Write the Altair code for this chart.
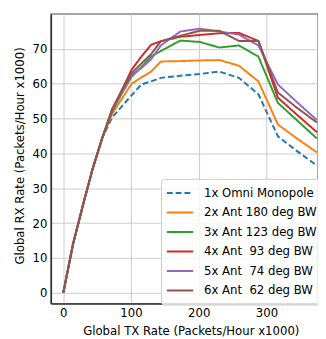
import altair as alt
import pandas as pd

tx = [0, 14.4, 28.8, 43.2, 57.6, 72, 86.4, 100.8, 115.2, 129.6, 144, 172.8,
      201.6, 230.4, 259.2, 288, 316.8, 345.6, 374.4]

names = ["1x Omni Monopole", "2x Ant 180 deg BW", "3x Ant 123 deg BW",
         "4x Ant \u00a093 deg BW", "5x Ant \u00a074 deg BW", "6x Ant \u00a062 deg BW"]

omni = [0, 14, 25, 35.5, 44.5, 50.3, 53.5, 56.7, 59.8, 60.7, 61.7, 62.3, 62.8, 63.5, 61.7, 57, 44.9, 40.6, 36.5]
ant2 = [0, 14, 25, 35.5, 44.5, 51.3, 55.7, 60, 61.8, 63.5, 66.4, 66.5, 66.7, 66.8, 65.2, 60.7, 48.3, 44.2, 40.3]
ant3 = [0, 14, 25, 35.5, 44.5, 52, 57.2, 62, 64.8, 67.8, 69.4, 72.4, 72, 70.4, 71, 67.8, 54.5, 49.4, 44.3]
ant4 = [0, 14, 25, 35.5, 44.5, 52.3, 58.2, 64, 67.8, 71.2, 72.2, 73.5, 74, 74.5, 74.6, 72.3, 56, 51, 46.1]
ant5 = [0, 14, 25, 35.5, 44.5, 52.5, 57.5, 62.4, 64.5, 67, 71, 75, 75.8, 75, 74.1, 71, 59.8, 54.6, 49.6]
ant6 = [0, 14, 25, 35.5, 44.5, 52.8, 58, 63, 65.8, 68.5, 72.2, 73.8, 75.2, 75.2, 72.3, 72.3, 57.5, 53, 48.9]

colors = ["#1f77b4", "#ff7f0e", "#2ca02c", "#d62728", "#9467bd", "#8c564b"]
dashes = [[6, 3], [1, 0], [1, 0], [1, 0], [1, 0], [1, 0]]

rows = []
for name, ys in zip(names, [omni, ant2, ant3, ant4, ant5, ant6]):
    for i, (x, y) in enumerate(zip(tx, ys)):
        rows.append({"series": name, "tx": x, "rx": y, "i": i})
df = pd.DataFrame(rows)

font = "DejaVu Sans"

legend = alt.Legend(
    title=None, orient="none", legendX=113, legendY=169,
    labelFont=font, labelFontSize=12, labelColor="#000",
    symbolType="stroke", symbolSize=729, symbolStrokeWidth=2,
    clipHeight=19, rowPadding=1, labelOffset=10,
    padding=5, fillColor="rgba(255,255,255,0.8)", strokeColor="#cccccc",
    cornerRadius=3, labelLimit=300,
)

chart = alt.Chart(df).mark_line(strokeWidth=2, clip=True).encode(
    x=alt.X("tx:Q", scale=alt.Scale(domain=[-18.3, 376], nice=False, zero=False),
            axis=alt.Axis(values=[0, 100, 200, 300], title="Global TX Rate (Packets/Hour x1000)",
                          titleX=143.5, titleAlign="center", titlePadding=8)),
    y=alt.Y("rx:Q", scale=alt.Scale(domain=[-3.1, 80], nice=False, zero=False),
            axis=alt.Axis(values=[0, 10, 20, 30, 40, 50, 60, 70], title="Global RX Rate (Packets/Hour x1000)",
                          titleY=145, titlePadding=6)),
    color=alt.Color("series:N", sort=names, scale=alt.Scale(domain=names, range=colors), legend=legend),
    strokeDash=alt.StrokeDash("series:N", sort=names, scale=alt.Scale(domain=names, range=dashes), legend=legend),
    order="i:Q",
).properties(
    width=274, height=297,
    autosize=alt.AutoSizeParams(type="none"),
    padding={"left": 44, "top": 2, "right": 0, "bottom": 30},
).configure_view(
    stroke="#888888", strokeWidth=1.5,
).configure_axis(
    labelFont=font, titleFont=font, labelFontSize=12, titleFontSize=12,
    labelColor="#000", titleColor="#000", titleFontWeight="normal",
    grid=True, gridColor="#cccccc", gridWidth=1,
    domainColor="#333333", domainWidth=1.5,
    ticks=False, labelPadding=4,
)

chart.save("out.html", embed_options={"renderer": "svg", "actions": False})
